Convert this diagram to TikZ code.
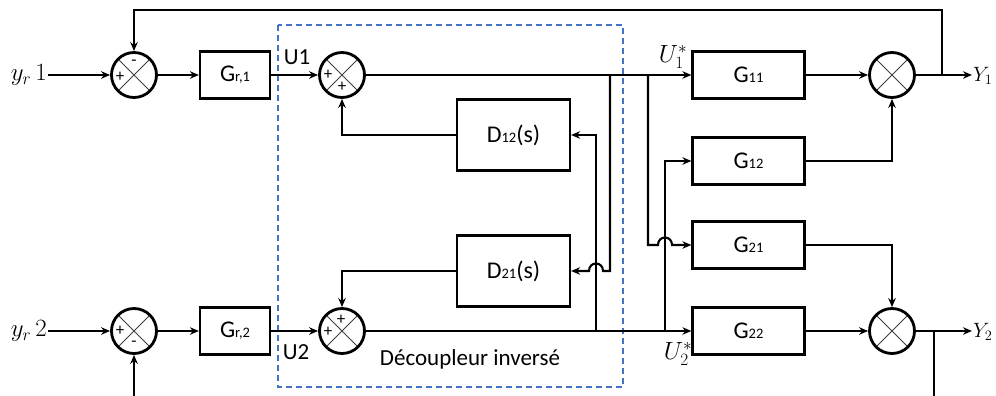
\documentclass[tikz,border=0pt]{standalone}
\usepackage{fontspec}
\setmainfont{Carlito}
\usetikzlibrary{arrows.meta,calc}
\definecolor{dashblue}{RGB}{68,114,196}
\begin{document}
\begin{tikzpicture}[x=1pt,y=-1pt,
  wire/.style={line width=2.1pt, draw=black},
  arr/.style={wire, -{Stealth[length=9pt,width=7.5pt]}},
  blk/.style={draw, line width=2.2pt, minimum width=112pt, minimum height=47pt, inner sep=0pt, font=\fontsize{24}{24}\selectfont},
  sblk/.style={blk, minimum width=70pt, minimum height=47pt},
  sumc/.style={draw, circle, line width=2.8pt, minimum size=45pt, inner sep=0pt,
    path picture={\draw[line width=1pt, black!75]
      (path picture bounding box.south west) -- (path picture bounding box.north east)
      (path picture bounding box.north west) -- (path picture bounding box.south east);}},
  sgn/.style={inner sep=0pt, font=\fontsize{17}{17}\selectfont},
  lbl/.style={inner sep=1pt, font=\fontsize{23}{23}\selectfont},
  mlbl/.style={inner sep=1pt, font=\fontsize{25}{25}\selectfont},
  ylbl/.style={inner sep=0pt, font=\fontsize{21}{21}\selectfont}]
\newcommand{\sbs}[1]{{\fontsize{14.5}{14.5}\selectfont #1}}
\clip (0,0) rectangle (996,396);
\fill[white] (0,0) rectangle (996,396);

% decoupler frame
\draw[dashblue, line width=1.8pt, dash pattern=on 6pt off 4pt] (278,25) rectangle (623,387);

% summing junctions
\node[sumc] (s1) at (134,75) {};
\node[sumc] (s2) at (134,331) {};
\node[sumc] (s3) at (342,75) {};
\node[sumc] (s4) at (342,331) {};
\node[sumc] (o1) at (892,75) {};
\node[sumc] (o2) at (892,331) {};

% signs
\node[sgn] at ($(s1.center)+(-14,2)$) {+};
\node[sgn] at ($(s1.center)+(0,-12)$) {-};
\node[sgn] at ($(s2.center)+(-14,0)$) {+};
\node[sgn] at ($(s2.center)+(0,13)$) {-};
\node[sgn] at ($(s3.center)+(-14,0)$) {+};
\node[sgn] at ($(s3.center)+(0,12)$) {+};
\node[sgn] at ($(s4.center)+(-14,1)$) {+};
\node[sgn] at ($(s4.center)+(-1,-11)$) {+};

% blocks
\node[sblk] (gr1) at (235,75) {G\sbs{r,1}};
\node[sblk] (gr2) at (235,331) {G\sbs{r,2}};
\node[blk, minimum width=113pt, minimum height=71pt] (d12) at (513.5,135) {D\sbs{12}(s)};
\node[blk, minimum width=113pt, minimum height=71pt] (d21) at (513.5,271) {D\sbs{21}(s)};
\node[blk] (g11) at (748.5,75) {G\sbs{11}};
\node[blk] (g12) at (748.5,161) {G\sbs{12}};
\node[blk] (g21) at (748.5,245) {G\sbs{21}};
\node[blk] (g22) at (748.5,331) {G\sbs{22}};

% labels
\node[mlbl, anchor=east] (yr1) at (48,75) {$y_r\,1$};
\node[mlbl, anchor=east] (yr2) at (48,331) {$y_r\,2$};
\node[lbl] (u1) at (297,57) {U1};
\node[lbl] (u2) at (296,352) {U2};
\node[mlbl] (u1s) at (673,57) {$U_1^*$};
\node[mlbl] (u2s) at (678,354) {$U_2^*$};
\node[ylbl, anchor=west] (y1) at (973,76) {$Y_1$};
\node[ylbl, anchor=west] (y2) at (973,332) {$Y_2$};
\node[lbl] (dec) at (470,359) {Découpleur inversé};

% junction points
\coordinate (j1) at (610,75);
\coordinate (j2) at (648,75);
\coordinate (j3) at (596,331);
\coordinate (j4) at (665,331);
\coordinate (f1) at (942,75);
\coordinate (t1) at (942,10);
\coordinate (f2) at (934,331);
\coordinate (t2) at (934,420);
\coordinate (e1) at (972,75);
\coordinate (e2) at (972,331);

% row 1
\draw[arr] (yr1.east) -- (s1.west);
\draw[arr] (s1.east) -- (gr1.west);
\draw[arr] (gr1.east) -- (s3.west);
\draw[arr] (s3.east) -- (g11.west);
% row 2
\draw[arr] (yr2.east) -- (s2.west);
\draw[arr] (s2.east) -- (gr2.west);
\draw[arr] (gr2.east) -- (s4.west);
\draw[arr] (s4.east) -- (g22.west);

% decoupler feedbacks
\draw[arr] (d12.west) -| (s3.south);
\draw[arr] (d21.west) -| (s4.north);
\draw[arr] (j3) |- (d12.east);
\draw[arr] (j1) |- ($(j3|-d21.east)+(7,0)$) .. controls +(0,-10) and +(0,-10) .. ($(j3|-d21.east)+(-7,0)$) -- (d21.east);

% cross couplings to plant
\draw[arr] (j4) |- (g12.west);
\draw[arr] (j2) |- ($(j4|-g21.west)+(-7,0)$) .. controls +(0,-10) and +(0,-10) .. ($(j4|-g21.west)+(7,0)$) -- (g21.west);

% plant outputs
\draw[arr] (g11.east) -- (o1.west);
\draw[arr] (g12.east) -| (o1.south);
\draw[arr] (g21.east) -| (o2.north);
\draw[arr] (g22.east) -- (o2.west);
\draw[arr] (o1.east) -- (e1);
\draw[arr] (o2.east) -- (e2);

% outer feedback
\draw[arr] (f1) -- (t1) -| (s1.north);
\draw[arr] (f2) -- (t2) -| (s2.south);
\end{tikzpicture}
\end{document}
